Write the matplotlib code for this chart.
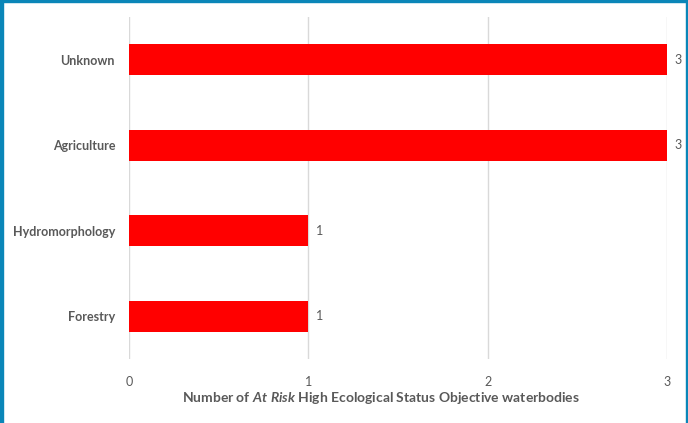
import matplotlib
matplotlib.use("Agg")
import matplotlib.pyplot as plt
from matplotlib.patches import Rectangle

categories = ["Forestry", "Hydromorphology", "Agriculture", "Unknown"]
counts = [1, 1, 3, 3]
xticks = [0, 1, 2, 3]

plt.rcParams["font.family"] = ["Lato", "DejaVu Sans"]
plt.rcParams["mathtext.fontset"] = "custom"
plt.rcParams["mathtext.rm"] = "Lato:bold"
plt.rcParams["mathtext.it"] = "Lato:italic:bold"
grey = "#595959"

fig = plt.figure(figsize=(6.88, 4.23), dpi=100)
ax = fig.add_axes([129 / 688, 1 - 359 / 423, 538 / 688, 342 / 423])

pos = range(len(categories))
ax.barh(pos, counts, height=0.36, color="#ff0000", zorder=3)
for p, v in zip(pos, counts):
    ax.text(v + 0.04, p, str(v), va="center", ha="left", fontsize=9, color=grey)

ax.set_xlim(0, 3)
ax.set_ylim(-0.5, len(categories) - 0.5)
ax.set_xticks(xticks)
ax.set_xticklabels([str(t) for t in xticks], color=grey, fontsize=9)
ax.set_yticks(list(pos))
ax.set_yticklabels(categories, fontsize=9, fontweight="bold", color=grey)
ax.tick_params(axis="both", length=0)
ax.tick_params(axis="x", pad=12)
ax.tick_params(axis="y", pad=10)
ax.grid(axis="x", color="#d9d9d9", linewidth=1, zorder=0)
for s in ax.spines.values():
    s.set_visible(False)

ax.set_xlabel("Number of $\\mathit{At\\ Risk}$ High Ecological Status Objective waterbodies",
              fontsize=10, fontweight="bold", color=grey, labelpad=5)
ax.xaxis.set_label_coords(0.468, -0.092)

# blue frame
blue = "#0a86b8"
fig.patches.append(Rectangle((0, 0), 3 / 688, 1, transform=fig.transFigure, color=blue))
fig.patches.append(Rectangle((0, 1 - 2 / 423), 1, 2 / 423, transform=fig.transFigure, color=blue))
fig.patches.append(Rectangle((1 - 2 / 688, 0), 2 / 688, 1, transform=fig.transFigure, color=blue))

fig.savefig("out.png", dpi=100)
